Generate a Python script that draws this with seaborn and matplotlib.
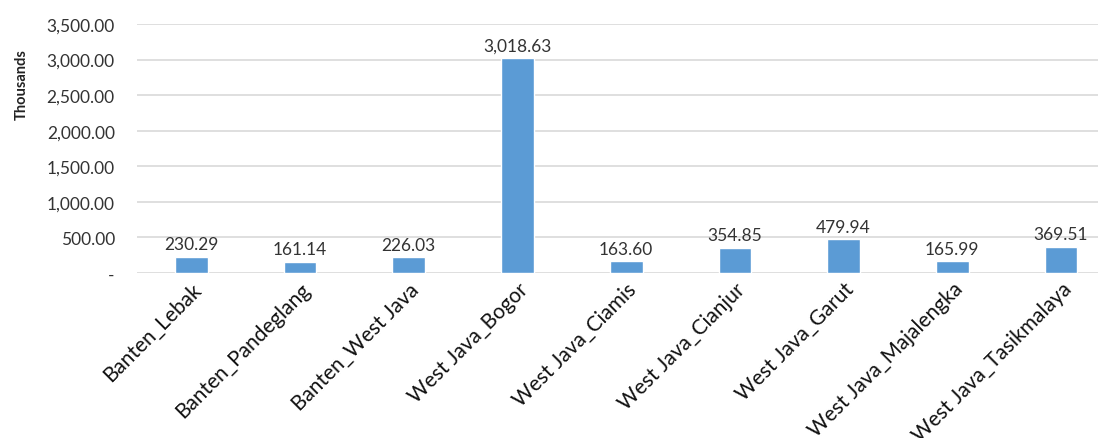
import matplotlib
matplotlib.use("Agg")
import matplotlib.pyplot as plt
import seaborn as sns
import pandas as pd
from matplotlib.ticker import FuncFormatter

categories = ["Banten_Lebak", "Banten_Pandeglang", "Banten_West Java", "West Java_Bogor",
              "West Java_Ciamis", "West Java_Cianjur", "West Java_Garut",
              "West Java_Majalengka", "West Java_Tasikmalaya"]
values = [230.29, 161.14, 226.03, 3018.63, 163.60, 354.85, 479.94, 165.99, 369.51]
y_ticks = [0, 500, 1000, 1500, 2000, 2500, 3000, 3500]
y_label = "Thousands"

sns.set_theme(style="white")
plt.rcParams['font.family'] = ['Lato', 'DejaVu Sans']

df = pd.DataFrame({"cat": categories, "val": values})

fig = plt.figure(figsize=(11.02, 4.39), dpi=100)
ax = fig.add_axes([137/1102, 1 - 274/439, (1098-137)/1102, (274-25)/439])

sns.barplot(data=df, x="cat", y="val", color="#5B9BD5", width=0.3, saturation=1, ax=ax, zorder=3)

ax.set_ylim(0, 3500)
ax.set_xlim(-0.5, 8.34)
ax.set_yticks(y_ticks)
ax.yaxis.set_major_formatter(FuncFormatter(lambda v, p: "-" if v == 0 else f"{v:,.2f}"))
ax.grid(axis="y", color="#d9d9d9", linewidth=1.2, zorder=0)
for s in ax.spines.values():
    s.set_visible(False)
ax.tick_params(axis="y", labelsize=12.5, colors="#333333", length=0, pad=16)
ax.tick_params(axis="x", length=0, pad=4)
ax.set_xlabel("")
ax.set_ylabel(y_label, fontsize=10.5, fontweight="bold", color="#222222")
ax.yaxis.set_label_coords(-0.113, 0.76)

for i, v in enumerate(values):
    ax.text(i, v + 60, f"{v:,.2f}", ha="center", va="bottom", fontsize=12.5, color="#333333")

ax.set_xticks(range(len(categories)))
ax.set_xticklabels(categories, rotation=45, ha="right", rotation_mode="anchor",
                   fontsize=15, color="#111111")
for lbl in ax.get_xticklabels():
    lbl.set_fontstretch("condensed")

fig.savefig("out.png", dpi=100)
